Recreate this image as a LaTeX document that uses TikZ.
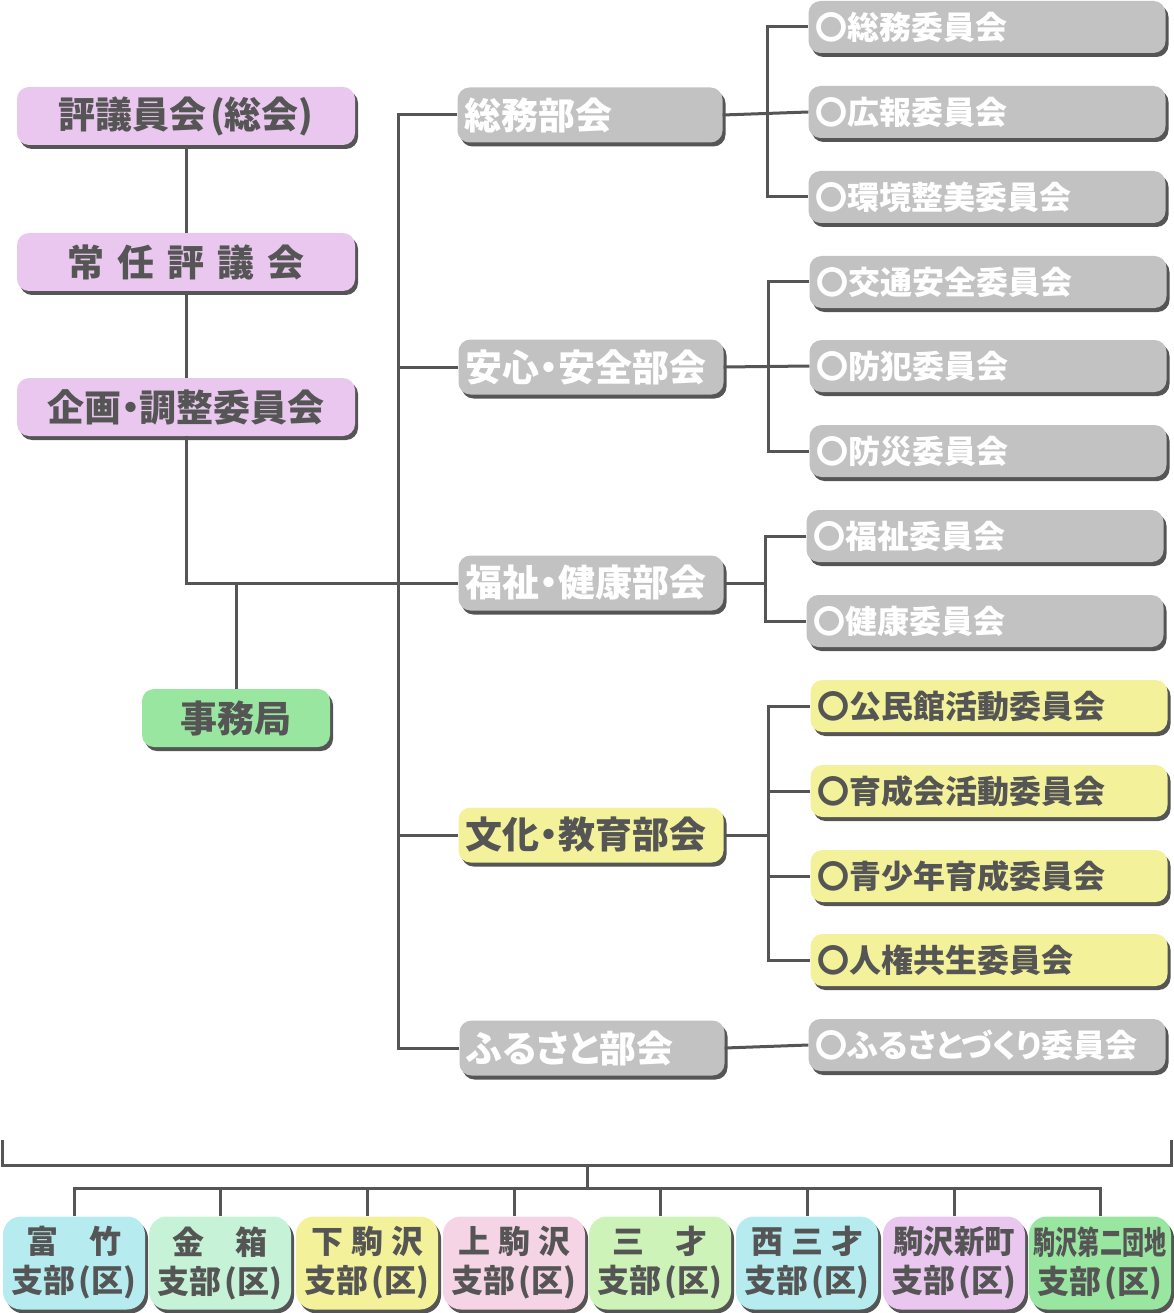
\documentclass[tikz,border=0pt]{standalone}
\usepackage{fontspec}
\usepackage{graphicx}
\newfontfamily\jp{Noto Sans CJK JP}[BoldFont={Noto Sans CJK JP Black}, RawFeature=+palt]
\usetikzlibrary{shadows}
\definecolor{ln}{HTML}{555555}
\definecolor{pinkbox}{HTML}{EAC7EF}
\definecolor{greenbox}{HTML}{99E6A0}
\definecolor{graybox}{HTML}{C2C2C2}
\definecolor{yellowbox}{HTML}{F3F29A}
\definecolor{cyanbox}{HTML}{B6ECF0}
\definecolor{mintbox}{HTML}{C6F3D8}
\definecolor{rosebox}{HTML}{F5D4E5}
\definecolor{limebox}{HTML}{CDF3B8}
\begin{document}
\begin{tikzpicture}[x=1pt,y=-1pt,
  box/.style={rounded corners=12pt, inner sep=0pt,
    drop shadow={shadow xshift=3pt, shadow yshift=-4pt, opacity=1, fill=ln}},
  leftbox/.style={box, fill=pinkbox, minimum width=338pt, minimum height=58pt,
    text=ln, font=\jp\bfseries\fontsize{37}{37}\selectfont},
  officebox/.style={box, fill=greenbox, minimum width=188pt, minimum height=58pt,
    text=ln, font=\jp\bfseries\fontsize{37}{37}\selectfont},
  deptbox/.style={box, minimum width=265pt, minimum height=55pt,
    text width=251pt, align=left, inner xsep=7pt,
    font=\jp\bfseries\fontsize{37}{37}\selectfont},
  combox/.style={box, minimum width=357pt, minimum height=52pt,
    text width=343pt, align=left, inner xsep=7pt,
    font=\jp\bfseries\fontsize{32}{32}\selectfont},
  gr/.style={fill=graybox, text=white},
  ye/.style={fill=yellowbox, text=ln},
  branch/.style={box, rounded corners=18pt, minimum width=142pt, minimum height=93pt,
    align=center, text=ln, font=\jp\bfseries\fontsize{32}{39}\selectfont},
  conn/.style={draw=ln, line width=3pt}
]
\useasboundingbox (0,0) rectangle (1173,1313);

% left column
\node[leftbox] (hyogi) at (186,116) {評議員会\hspace{4pt}(総会)};
\node[leftbox] (joni) at (186,262) {常\hspace{13pt}任\hspace{13pt}評\hspace{13pt}議\hspace{13pt}会};
\node[leftbox] (kikaku) at (186,407) {企画・調整委員会};
\node[officebox] (jimu) at (236,718) {事務局};

% departments
\node[deptbox,gr] (somu) at (590,115) {総務部会};
\node[deptbox,gr] (anshin) at (591,367) {安心・安全部会};
\node[deptbox,gr] (fukushi) at (591,583) {福祉・健康部会};
\node[deptbox,ye] (bunka) at (591,835) {文化・教育部会};
\node[deptbox,gr] (furusato) at (592,1048) {ふるさと部会};

% committees
\node[combox,gr] (c1) at (987,27) {〇総務委員会};
\node[combox,gr] (c2) at (987,112) {〇広報委員会};
\node[combox,gr] (c3) at (987,197) {〇環境整美委員会};
\node[combox,gr] (c4) at (988,282) {〇交通安全委員会};
\node[combox,gr] (c5) at (988,366) {〇防犯委員会};
\node[combox,gr] (c6) at (988,451) {〇防災委員会};
\node[combox,gr] (c7) at (985,536) {〇福祉委員会};
\node[combox,gr] (c8) at (985,621) {〇健康委員会};
\node[combox,ye] (c9) at (989,706) {〇公民館活動委員会};
\node[combox,ye] (c10) at (989,791) {〇育成会活動委員会};
\node[combox,ye] (c11) at (989,876) {〇青少年育成委員会};
\node[combox,ye] (c12) at (989,960) {〇人権共生委員会};
\node[combox,gr] (c13) at (987,1045) {〇ふるさとづくり委員会};

% branches
\node[branch, fill=cyanbox] (b1) at (74,1263) {富\hspace{1em}竹\\支部\hspace{3pt}(区)};
\node[branch, fill=mintbox] (b2) at (220,1263) {金\hspace{1em}箱\\支部\hspace{3pt}(区)};
\node[branch, fill=yellowbox] (b3) at (367,1263) {下\hspace{8pt}駒\hspace{8pt}沢\\支部\hspace{3pt}(区)};
\node[branch, fill=rosebox] (b4) at (514,1263) {上\hspace{8pt}駒\hspace{8pt}沢\\支部\hspace{3pt}(区)};
\node[branch, fill=limebox] (b5) at (660,1263) {三\hspace{1em}才\\支部\hspace{3pt}(区)};
\node[branch, fill=cyanbox] (b6) at (807,1263) {西\hspace{8pt}三\hspace{8pt}才\\支部\hspace{3pt}(区)};
\node[branch, fill=pinkbox] (b7) at (954,1263) {\scalebox{0.95}[1]{駒沢新町}\\支部\hspace{3pt}(区)};
\node[branch, fill=greenbox] (b8) at (1100,1263) {\scalebox{0.69}[1]{駒沢第二団地}\\支部\hspace{3pt}(区)};

% coordinates
\coordinate (sp) at (398,0);
\coordinate (r1) at (767,0);
\coordinate (r2) at (768,0);
\coordinate (r3) at (765,0);
\coordinate (r4) at (768,0);
\coordinate (bl) at (2,1140);
\coordinate (br) at (1171,1140);
\coordinate (bm) at (587,1165);
\coordinate (hb) at (587,1188);

% connectors left
\draw[conn] (hyogi.south) -- (joni.north);
\draw[conn] (joni.south) -- (kikaku.north);
\draw[conn] (kikaku.south) |- (fukushi.west);
\draw[conn] (jimu.north) -- (jimu.north |- fukushi.west);

% spine
\draw[conn] (somu.west) -| (sp |- furusato.west) -- (furusato.west);
\draw[conn] (anshin.west) -- (anshin.west -| sp);
\draw[conn] (bunka.west) -- (bunka.west -| sp);

% right groups
\draw[conn] (somu.east) -- (c2.west);
\draw[conn] (c1.west) -| (r1 |- c3.west) -- (c3.west);
\draw[conn] (anshin.east) -- (c5.west);
\draw[conn] (c4.west) -| (r2 |- c6.west) -- (c6.west);
\draw[conn] (fukushi.east) -- (fukushi.east -| r3);
\draw[conn] (c7.west) -| (r3 |- c8.west) -- (c8.west);
\draw[conn] (bunka.east) -- (bunka.east -| r4);
\draw[conn] (c9.west) -| (r4 |- c12.west) -- (c12.west);
\draw[conn] (c10.west) -- (c10.west -| r4);
\draw[conn] (c11.west) -- (c11.west -| r4);
\draw[conn] (furusato.east) -- (c13.west);

% bottom bracket
\draw[conn] (bl) |- (bm) -| (br);
\draw[conn] (bm) -- (hb);
\draw[conn] (b1.north) |- (hb) -| (b8.north);
\foreach \b in {b2,b3,b4,b5,b6,b7} \draw[conn] (\b.north) -- (\b.north |- hb);
\end{tikzpicture}
\end{document}
